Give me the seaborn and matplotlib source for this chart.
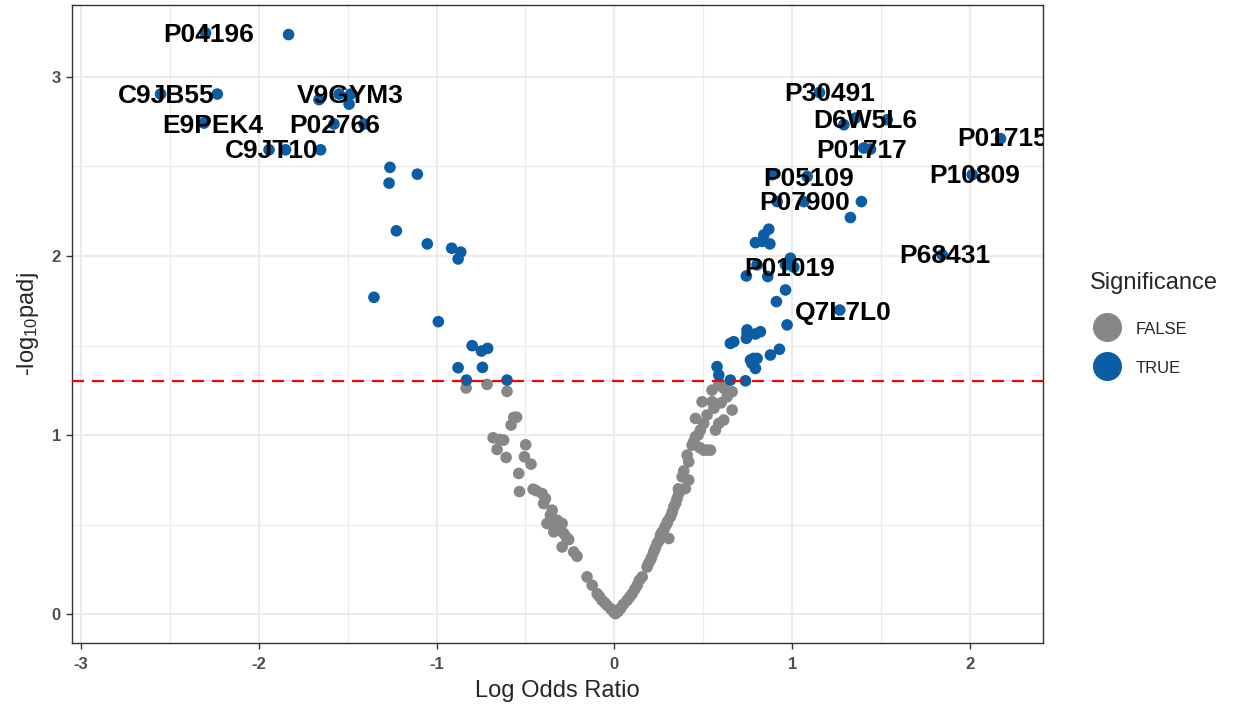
import numpy as np
import pandas as pd
import seaborn as sns
from matplotlib import pyplot as plt

sns.set_theme(style="whitegrid")
plt.rcParams['font.family'] = ['Liberation Sans', 'DejaVu Sans']
plt.rcParams['mathtext.default'] = 'regular'
plt.rcParams['axes.unicode_minus'] = False

# Non-significant proteins (log odds ratio, -log10 padj)
false_x = [-0.834, -0.716, -0.604, -0.566, -0.581, -0.550, -0.682, -0.623, -0.660, -0.609, -0.645,
           -0.499, -0.506, -0.469, -0.538, -0.534, -0.457, -0.440, -0.407, -0.388, -0.398, -0.350,
           -0.360, -0.322, -0.379, -0.294, -0.341, -0.285, -0.257, -0.294, -0.229, -0.210, -0.330,
           -0.310, -0.270, -0.154, -0.125, -0.097, -0.069, -0.041, -0.004, 0.015, -0.020, -0.085,
           -0.055,
           0.006, 0.034, 0.071, 0.100, 0.128, 0.156, 0.184, 0.202, 0.221, 0.240, 0.259, 0.277, 0.296,
           0.315, 0.306, 0.334, 0.352, 0.362, 0.381, 0.418, 0.399, 0.418, 0.409, 0.437, 0.456, 0.446,
           0.484, 0.540, 0.502, 0.502, 0.456, 0.521, 0.493, 0.549, 0.568, 0.615, 0.587, 0.662, 0.634,
           0.662, 0.549, 0.587, 0.615, 0.590, 0.190, 0.210, 0.230, 0.250, 0.265, 0.285, 0.300, 0.325,
           0.345, 0.140, 0.115, 0.085, 0.050, 0.020, 0.360, 0.390, 0.470, 0.480, 0.520, 0.560, 0.600]
false_y = [1.263, 1.283, 1.244, 1.099, 1.056, 1.100, 0.985, 0.972, 0.920, 0.875, 0.975,
           0.946, 0.879, 0.838, 0.786, 0.685, 0.698, 0.690, 0.674, 0.646, 0.618, 0.581,
           0.553, 0.525, 0.507, 0.507, 0.460, 0.451, 0.417, 0.376, 0.348, 0.324, 0.500,
           0.470, 0.430, 0.209, 0.162, 0.115, 0.078, 0.050, 0.013, 0.022, 0.030, 0.100,
           0.065,
           0.004, 0.032, 0.078, 0.115, 0.162, 0.209, 0.264, 0.302, 0.348, 0.395, 0.441, 0.469, 0.507,
           0.544, 0.423, 0.600, 0.646, 0.674, 0.767, 0.749, 0.702, 0.851, 0.888, 0.944, 0.991, 0.963,
           1.028, 0.916, 0.916, 1.065, 1.093, 1.112, 1.186, 1.186, 1.028, 1.084, 1.065, 1.140, 1.214,
           1.242, 1.251, 1.279, 1.261, 1.290, 0.280, 0.320, 0.370, 0.410, 0.455, 0.490, 0.520, 0.570,
           0.620, 0.190, 0.140, 0.095, 0.055, 0.015, 0.700, 0.800, 1.000, 0.930, 0.917, 1.150, 1.180]

# Significant proteins
true_x = [-1.832, -2.299, -2.552, -2.233, -2.308, -1.661, -1.548, -1.483, -1.492, -1.577, -1.408,
          -1.942, -1.849, -1.652, -1.262, -1.108, -1.267, -1.226, -1.052, -0.915, -0.864, -0.879,
          -1.352, -0.990, -0.800, -0.748, -0.713, -0.879, -0.742, -0.832, -0.604,
          0.652, 0.737, 0.577, 0.587, 0.652, 0.671, 0.783, 0.774, 0.793, 0.877, 0.928, 0.746, 0.821,
          0.742, 0.793, 0.746, 0.971, 1.267, 0.911, 0.962, 0.742, 0.862, 0.802, 0.962, 1.009, 0.990,
          0.793, 0.831, 0.874, 0.840, 0.868, 1.327, 0.915, 1.065, 1.389, 1.843, 0.887, 1.084, 2.012,
          1.402, 1.440, 2.171, 1.290, 1.355, 1.534, 1.153, 0.765, 0.802]
true_y = [3.235, 3.244, 2.903, 2.903, 2.741, 2.872, 2.903, 2.903, 2.847, 2.736, 2.736,
          2.592, 2.592, 2.592, 2.494, 2.456, 2.406, 2.140, 2.067, 2.043, 2.021, 1.983,
          1.769, 1.633, 1.499, 1.469, 1.484, 1.376, 1.378, 1.307, 1.307,
          1.307, 1.303, 1.382, 1.335, 1.512, 1.521, 1.428, 1.400, 1.372, 1.447, 1.479, 1.568, 1.577,
          1.540, 1.564, 1.587, 1.615, 1.698, 1.745, 1.810, 1.888, 1.885, 1.950, 1.950, 1.937, 1.987,
          2.074, 2.081, 2.067, 2.117, 2.149, 2.214, 2.303, 2.303, 2.303, 2.006, 2.453, 2.443, 2.453,
          2.602, 2.596, 2.654, 2.732, 2.769, 2.760, 2.912, 1.419, 1.428]

# Protein labels (text positions)
label_names = ['P04196', 'C9JB55', 'V9GYM3', 'E9PEK4', 'P02766', 'C9JT10', 'P30491', 'D6W5L6',
               'P01715', 'P01717', 'P10809', 'P05109', 'P07900', 'P68431', 'P01019', 'Q7L7L0']
label_x = [-2.283, -2.520, -1.485, -2.261, -1.575, -1.929, 1.209, 1.412,
           2.182, 1.389, 2.025, 1.091, 1.069, 1.856, 0.984, 1.288]
label_y = [3.235, 2.894, 2.894, 2.726, 2.726, 2.587, 2.905, 2.754,
           2.654, 2.587, 2.447, 2.430, 2.296, 2.000, 1.927, 1.682]

df = pd.DataFrame({
    'logOR': false_x + true_x,
    'padj': false_y + true_y,
    'Significance': ['FALSE'] * len(false_x) + ['TRUE'] * len(true_x),
})

fig = plt.figure(figsize=(12.33, 7.10), dpi=100)
ax = fig.add_axes([72 / 1233, 1 - 643 / 710, (1043 - 72) / 1233, (643 - 5) / 710])

ax = sns.scatterplot(data=df, x='logOR', y='padj', hue='Significance',
                     hue_order=['FALSE', 'TRUE'], palette=['#878787', '#0B5DA6'],
                     s=70, linewidth=0, ax=ax, zorder=3)

ax.axhline(-np.log10(0.05), color='#FF0000', lw=1.6, dashes=(5.4, 3.6), zorder=4)

for name, lx, ly in zip(label_names, label_x, label_y):
    ax.text(lx, ly, name, fontsize=19, fontweight='bold', ha='center', va='center',
            color='black', clip_on=True, zorder=5)

ax.set_xlim(-3.05, 2.41)
ax.set_ylim(-0.16, 3.40)
ax.set_xticks([-3, -2, -1, 0, 1, 2])
ax.set_yticks([0, 1, 2, 3])
ax.set_xticks(np.arange(-2.5, 2.5, 1), minor=True)
ax.set_yticks(np.arange(0.5, 3.5, 1), minor=True)
ax.grid(which='major', color='#EBEBEB', lw=1.5)
ax.grid(which='minor', color='#EBEBEB', lw=0.8)
ax.set_axisbelow(True)
for sp in ax.spines.values():
    sp.set_color('#333333')
    sp.set_linewidth(1.0)
ax.tick_params(which='major', length=4, width=1, color='#333333', labelcolor='#4D4D4D',
               labelsize=12, bottom=True, left=True)
ax.tick_params(axis='x', which='major', pad=6)
ax.tick_params(axis='y', which='major', pad=4)
ax.tick_params(which='minor', length=0)
for t in ax.get_xticklabels() + ax.get_yticklabels():
    t.set_fontweight('bold')

ax.set_xlabel('Log Odds Ratio', fontsize=17, labelpad=6)
ax.set_ylabel(r'-log$_{10}$padj', fontsize=17, labelpad=8)

sns.move_legend(ax, loc='center left', bbox_to_anchor=(1.04, 0.50), frameon=False,
                title='Significance', fontsize=12, title_fontsize=17, markerscale=2.5,
                borderpad=0, handletextpad=0.7, labelspacing=1.4, handleheight=1.0)
leg = ax.get_legend()
leg._legend_box.align = 'left'
leg._legend_box.sep = 19

plt.savefig('out.png', dpi=100)
